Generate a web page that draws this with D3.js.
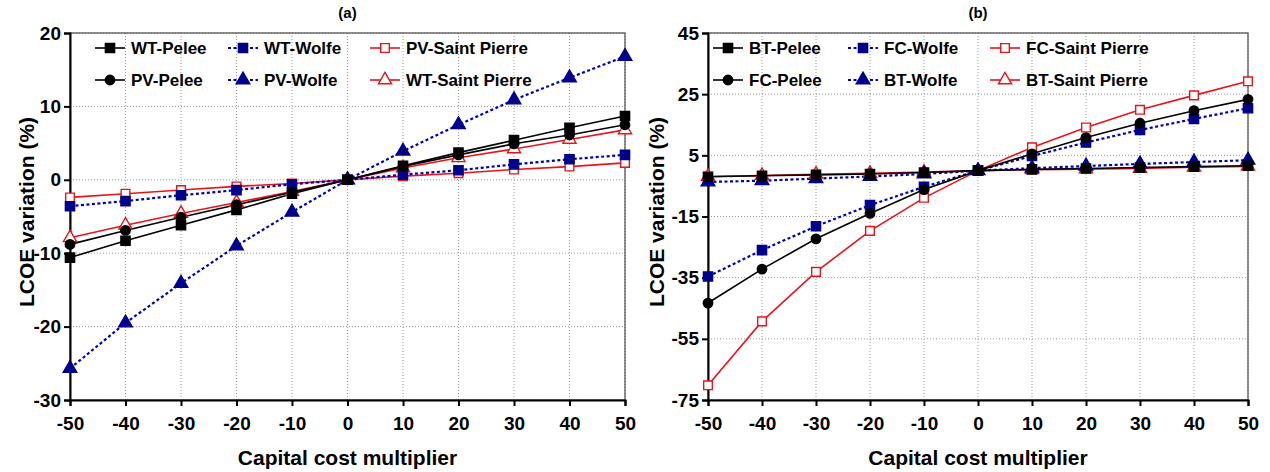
<!DOCTYPE html>
<html>
<head>
<meta charset="utf-8">
<script src="https://cdn.jsdelivr.net/npm/d3@7"></script>
<style>
  html, body { margin: 0; padding: 0; background: #fff; }
  svg text { font-family: "Liberation Sans", Arial, sans-serif; font-weight: bold; fill: #000; }
</style>
</head>
<body>
<svg id="chart" width="1270" height="472"></svg>
<script>
// Capital cost multiplier (%)
const multipliers = [-50, -40, -30, -20, -10, 0, 10, 20, 30, 40, 50];

// Panel (a): LCOE variation (%) for wind turbine (WT) and PV
const wtPelee = [-10.6, -8.3, -6.2, -4.1, -1.9, 0, 1.9, 3.7, 5.4, 7.1, 8.7];
const pvPelee = [-8.8, -6.9, -5.1, -3.4, -1.7, 0, 1.8, 3.4, 4.9, 6.1, 7.5];
const wtWolfe = [-3.6, -2.9, -2.1, -1.4, -0.6, 0, 0.7, 1.3, 2.1, 2.8, 3.4];
const pvWolfe = [-25.7, -19.5, -14.1, -9.0, -4.4, 0, 3.9, 7.5, 10.9, 13.9, 16.8];
const pvSaintPierre = [-2.4, -1.9, -1.4, -0.9, -0.5, 0, 0.5, 0.9, 1.4, 1.8, 2.3];
const wtSaintPierre = [-7.9, -6.2, -4.6, -3.1, -1.6, 0, 1.6, 3.0, 4.2, 5.5, 6.8];

// Panel (b): LCOE variation (%) for battery (BT) and fuel cell (FC)
const btPelee = [-2.0, -1.7, -1.4, -1.1, -0.6, 0, 0.4, 0.7, 1.0, 1.3, 1.6];
const fcPelee = [-43.3, -32.2, -22.3, -14.0, -6.2, 0, 5.5, 10.8, 15.5, 19.6, 23.3];
const fcWolfe = [-34.6, -26.0, -18.2, -11.3, -5.3, 0, 4.8, 9.2, 13.3, 16.9, 20.4];
const btWolfe = [-3.7, -3.3, -2.6, -1.9, -1.1, 0, 0.8, 1.5, 2.2, 2.8, 3.4];
const fcSaintPierre = [-70.2, -49.3, -33.1, -19.7, -8.9, 0, 7.6, 14.1, 19.9, 24.6, 29.2];
const btSaintPierre = [-1.9, -1.6, -1.2, -0.9, -0.5, 0, 0.3, 0.5, 0.7, 1.1, 1.4];

// Axis ticks
const xTicks = [-50, -40, -30, -20, -10, 0, 10, 20, 30, 40, 50];
const yTicksA = [-30, -20, -10, 0, 10, 20];
const yTicksB = [-75, -55, -35, -15, 5, 25, 45];

const BLACK = "#000000", BLUE = "#0000b4", NAVY = "#00008b", RED = "#e8141c";

const styles = {
  blackSquare: { line: BLACK, dash: null, shape: d3.symbolSquare, size: 85, fill: BLACK, stroke: BLACK },
  blackCircle: { line: BLACK, dash: null, shape: d3.symbolCircle, size: 70, fill: BLACK, stroke: BLACK },
  blueSquare:  { line: BLUE, dash: "3,2.5", shape: d3.symbolSquare, size: 85, fill: NAVY, stroke: NAVY },
  blueTriangle:{ line: BLUE, dash: "3,2.5", shape: d3.symbolTriangle, size: 80, fill: NAVY, stroke: NAVY },
  redSquare:   { line: RED, dash: null, shape: d3.symbolSquare, size: 75, fill: "#fff", stroke: RED },
  redTriangle: { line: RED, dash: null, shape: d3.symbolTriangle, size: 75, fill: "#fff", stroke: RED }
};

const panels = [
  {
    title: "(a)",
    x: [70, 625], y: [400, 33], yDomain: [-30, 20], yTicks: yTicksA,
    yTitleX: 27,
    legendX: [95, 228, 370],
    series: [
      { name: "WT-Pelee", values: wtPelee, style: "blackSquare", col: 0, row: 0 },
      { name: "PV-Pelee", values: pvPelee, style: "blackCircle", col: 0, row: 1 },
      { name: "WT-Wolfe", values: wtWolfe, style: "blueSquare", col: 1, row: 0 },
      { name: "PV-Wolfe", values: pvWolfe, style: "blueTriangle", col: 1, row: 1 },
      { name: "PV-Saint Pierre", values: pvSaintPierre, style: "redSquare", col: 2, row: 0 },
      { name: "WT-Saint Pierre", values: wtSaintPierre, style: "redTriangle", col: 2, row: 1 }
    ]
  },
  {
    title: "(b)",
    x: [708, 1248], y: [400, 33], yDomain: [-75, 45], yTicks: yTicksB,
    yTitleX: 657,
    legendX: [713, 848, 990],
    series: [
      { name: "BT-Pelee", values: btPelee, style: "blackSquare", col: 0, row: 0 },
      { name: "FC-Pelee", values: fcPelee, style: "blackCircle", col: 0, row: 1 },
      { name: "FC-Wolfe", values: fcWolfe, style: "blueSquare", col: 1, row: 0 },
      { name: "BT-Wolfe", values: btWolfe, style: "blueTriangle", col: 1, row: 1 },
      { name: "FC-Saint Pierre", values: fcSaintPierre, style: "redSquare", col: 2, row: 0 },
      { name: "BT-Saint Pierre", values: btSaintPierre, style: "redTriangle", col: 2, row: 1 }
    ]
  }
];

const svg = d3.select("#chart");
const fmt = d => String(d);   // plain hyphen for negative ticks

panels.forEach(p => {
  const x = d3.scaleLinear().domain([-50, 50]).range(p.x);
  const y = d3.scaleLinear().domain(p.yDomain).range(p.y);
  const g = svg.append("g");

  // dotted grid
  g.append("g").selectAll("line").data(xTicks).join("line")
    .attr("x1", d => x(d)).attr("x2", d => x(d))
    .attr("y1", p.y[1]).attr("y2", p.y[0])
    .attr("stroke", "#9a9a9a").attr("stroke-width", 1).attr("stroke-dasharray", "1,2");
  g.append("g").selectAll("line").data(p.yTicks).join("line")
    .attr("y1", d => y(d)).attr("y2", d => y(d))
    .attr("x1", p.x[0]).attr("x2", p.x[1])
    .attr("stroke", "#9a9a9a").attr("stroke-width", 1).attr("stroke-dasharray", "1,2");

  // frame (top / right)
  g.append("rect")
    .attr("x", p.x[0]).attr("y", p.y[1])
    .attr("width", p.x[1] - p.x[0]).attr("height", p.y[0] - p.y[1])
    .attr("fill", "none").attr("stroke", "#4a4a4a").attr("stroke-width", 1.2);

  // axes
  const xAxis = g.append("g").attr("transform", `translate(0,${p.y[0]})`)
    .call(d3.axisBottom(x).tickValues(xTicks).tickSize(6).tickPadding(6).tickFormat(fmt));
  const yAxis = g.append("g").attr("transform", `translate(${p.x[0]},0)`)
    .call(d3.axisLeft(y).tickValues(p.yTicks).tickSize(6).tickPadding(3).tickFormat(fmt));
  [xAxis, yAxis].forEach(a => {
    a.select(".domain").attr("stroke", "#000").attr("stroke-width", 2);
    a.selectAll(".tick line").attr("stroke", "#000").attr("stroke-width", 2);
    a.selectAll(".tick text").attr("font-size", 19).attr("font-weight", "bold")
      .attr("font-family", "Liberation Sans, Arial, sans-serif").attr("fill", "#000");
  });
  xAxis.selectAll(".tick text").attr("dy", "0.95em");

  // titles
  g.append("text").attr("x", (p.x[0] + p.x[1]) / 2).attr("y", 18)
    .attr("text-anchor", "middle").attr("font-size", 15).text(p.title);
  g.append("text").attr("x", (p.x[0] + p.x[1]) / 2).attr("y", 465)
    .attr("text-anchor", "middle").attr("font-size", 21).text("Capital cost multiplier");
  g.append("text")
    .attr("transform", `translate(${p.yTitleX},212) rotate(-90)`)
    .attr("text-anchor", "middle").attr("dy", "0.35em").attr("font-size", 21)
    .text("LCOE variation (%)");

  const line = d3.line().x((d, i) => x(multipliers[i])).y(d => y(d));

  // series lines
  p.series.slice().reverse().forEach(s => {
    const st = styles[s.style];
    g.append("path").datum(s.values)
      .attr("d", line).attr("fill", "none")
      .attr("stroke", st.line).attr("stroke-width", st.dash ? 2.2 : 1.6)
      .attr("stroke-dasharray", st.dash);
  });
  // series markers
  p.series.slice().reverse().forEach(s => {
    const st = styles[s.style];
    const sym = d3.symbol().type(st.shape).size(st.size);
    g.append("g").selectAll("path").data(s.values).join("path")
      .attr("transform", (d, i) => `translate(${x(multipliers[i])},${y(d)})`)
      .attr("d", sym).attr("fill", st.fill).attr("stroke", st.stroke).attr("stroke-width", 1.4);
  });

  // legend
  const rowsY = [48, 80];
  p.series.forEach(s => {
    const st = styles[s.style];
    const lx = p.legendX[s.col], ly = rowsY[s.row];
    const lg = g.append("g").attr("transform", `translate(${lx},${ly})`);
    lg.append("line").attr("x1", 0).attr("x2", 30).attr("y1", 0).attr("y2", 0)
      .attr("stroke", st.line).attr("stroke-width", st.dash ? 2.2 : 1.6)
      .attr("stroke-dasharray", st.dash);
    lg.append("path").attr("transform", "translate(15,0)")
      .attr("d", d3.symbol().type(st.shape).size(st.size)())
      .attr("fill", st.fill).attr("stroke", st.stroke).attr("stroke-width", 1.4);
    lg.append("text").attr("x", 36).attr("dy", "0.36em").attr("font-size", 17).text(s.name);
  });
});
</script>
</body>
</html>
